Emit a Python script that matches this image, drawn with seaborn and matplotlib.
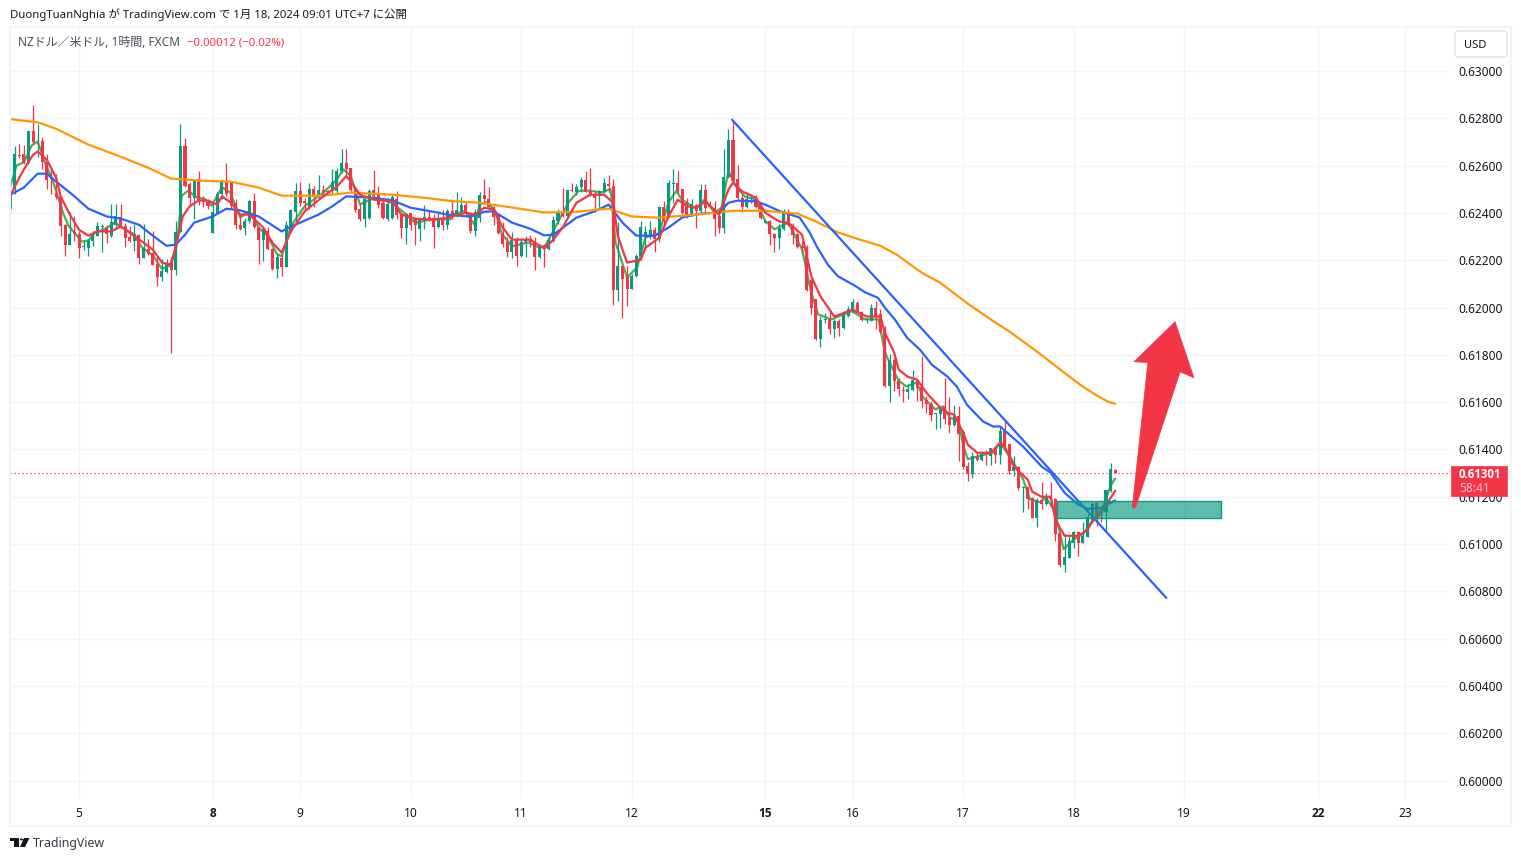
import numpy as np
import pandas as pd
import matplotlib
matplotlib.use("Agg")
import matplotlib.pyplot as plt
from matplotlib.patches import Rectangle, FancyBboxPatch, Polygon, Circle
import seaborn as sns

sns.set_theme(style="white")
FONT = ['Noto Sans', 'Noto Sans CJK JP', 'DejaVu Sans']
BOLD = ['Open Sans', 'DejaVu Sans']
plt.rcParams['font.family'] = FONT

# ---- hourly candles, prices in 1e-5 units ----
opens = [
62417,62501,62645,62649,62611,62747,62699,62704,62614,62551,
62484,62466,62349,62264,62318,62311,62255,62252,62283,62304,
62342,62335,62304,62349,62384,62346,62297,62283,62307,62211,
62247,62231,62184,62130,62149,62191,62160,62318,62683,62522,
62465,62537,62453,62448,62315,62400,62480,62537,62535,62443,
62351,62335,62366,62449,62342,62284,62323,62248,62161,62210,
62172,62327,62404,62491,62450,62422,62502,62468,62497,62488,
62492,62492,62577,62612,62591,62499,62415,62373,62380,62495,
62485,62443,62375,62380,62457,62390,62337,62398,62373,62330,
62373,62384,62380,62342,62373,62350,62407,62388,62405,62433,
62395,62325,62377,62476,62459,62424,62391,62315,62275,62236,
62285,62219,62275,62290,62273,62215,62264,62247,62283,62367,
62402,62388,62497,62487,62508,62539,62494,62480,62473,62487,
62522,62515,62075,62174,62134,62078,62132,62219,62297,62297,
62328,62290,62424,62385,62524,62525,62500,62441,62394,62432,
62408,62497,62436,62422,62387,62336,62553,62707,62542,62465,
62427,62460,62458,62432,62357,62366,62310,62295,62331,62404,
62350,62310,62260,62257,62116,62035,61865,61946,61953,61908,
61943,61912,61964,61985,62020,61982,61946,61943,62000,61974,
61902,61669,61779,61690,61652,61644,61651,61690,61666,61608,
61592,61551,61549,61578,61531,61503,61542,61472,61331,61295,
61370,61355,61387,61373,61404,61377,61476,61422,61310,61324,
61236,61239,61193,61112,61186,61169,61204,61190,61046,60911,
60942,61006,61049,61006,61030,61098,61174,61136,61136,61225,
61315]
highs = [
62513,62685,62692,62687,62747,62857,62776,62720,62649,62593,
62565,62473,62353,62403,62388,62325,62283,62290,62325,62360,
62353,62349,62438,62438,62438,62357,62346,62353,62311,62353,
62290,62325,62219,62205,62205,62212,62367,62776,62716,62530,
62544,62579,62473,62459,62445,62487,62544,62611,62535,62457,
62394,62380,62454,62485,62342,62337,62342,62253,62225,62225,
62366,62415,62525,62530,62464,62525,62514,62560,62520,62499,
62587,62591,62669,62669,62591,62514,62436,62464,62502,62580,
62516,62457,62464,62478,62492,62394,62401,62401,62375,62380,
62432,62412,62394,62408,62412,62416,62459,62487,62466,62445,
62402,62416,62490,62543,62508,62431,62395,62360,62297,62318,
62297,62290,62301,62307,62297,62268,62268,62297,62388,62416,
62505,62497,62526,62522,62550,62579,62589,62494,62498,62546,
62560,62543,62360,62177,62177,62142,62226,62367,62346,62367,
62339,62431,62452,62540,62584,62577,62503,62465,62458,62436,
62521,62524,62451,62451,62408,62672,62756,62789,62603,62479,
62479,62482,62475,62444,62369,62369,62317,62352,62418,62418,
62356,62317,62281,62263,62119,62037,61964,61978,61985,61950,
61950,61985,62006,62035,62028,61985,61957,62013,62028,61993,
61922,61803,61785,61704,61669,61676,61735,61697,61796,61627,
61606,61553,61585,61702,61623,61587,61582,61483,61345,61387,
61387,61387,61398,61408,61408,61500,61521,61422,61373,61331,
61246,61246,61197,61193,61264,61215,61264,61193,61049,61044,
61035,61056,61053,61091,61126,61176,61178,61140,61228,61342,
61317]
lows = [
62395,62480,62631,62607,62607,62692,62635,62586,62501,62480,
62459,62301,62219,62264,62283,62211,62245,62219,62262,62301,
62236,62273,62300,62339,62339,62256,62276,62240,62184,62208,
62222,62180,62092,62114,62146,61808,62139,62318,62508,62431,
62374,62434,62424,62417,62315,62395,62459,62473,62422,62330,
62327,62305,62359,62337,62186,62196,62243,62158,62124,62133,
62170,62323,62359,62429,62412,62418,62426,62464,62468,62478,
62485,62485,62570,62556,62492,62404,62366,62342,62375,62460,
62422,62373,62366,62373,62373,62295,62267,62327,62263,62281,
62330,62366,62253,62337,62327,62332,62374,62381,62402,62388,
62315,62301,62360,62438,62416,62349,62311,62254,62212,62208,
62177,62212,62212,62254,62160,62209,62170,62244,62276,62353,
62381,62385,62487,62476,62487,62487,62473,62405,62424,62484,
62487,62012,62029,61955,62005,62078,62127,62216,62247,62290,
62233,62276,62339,62381,62443,62479,62394,62380,62387,62335,
62401,62401,62422,62303,62314,62317,62549,62528,62458,62404,
62422,62443,62421,62376,62356,62263,62235,62246,62326,62345,
62267,62253,62235,62070,61971,61863,61833,61936,61887,61870,
61879,61910,61961,61982,61981,61943,61933,61942,61908,61894,
61666,61601,61648,61624,61601,61615,61648,61606,61575,61553,
61521,61486,61490,61507,61469,61500,61352,61317,61267,61279,
61352,61352,61335,61335,61342,61338,61408,61298,61288,61228,
61136,61147,61108,61073,61147,61164,61161,61013,60901,60882,
60939,60985,60950,61004,61028,61091,61077,61091,61052,61222,
61301]
closes = [
62487,62649,62642,62611,62747,62699,62702,62614,62539,62544,
62466,62346,62264,62311,62311,62252,62262,62283,62311,62345,
62346,62311,62360,62386,62343,62295,62283,62311,62211,62252,
62228,62181,62130,62156,62184,62160,62318,62683,62515,62465,
62537,62452,62448,62428,62403,62480,62537,62480,62429,62347,
62333,62368,62450,62342,62284,62333,62248,62161,62215,62170,
62347,62411,62491,62440,62443,62502,62468,62499,62490,62492,
62532,62577,62612,62587,62499,62411,62373,62457,62492,62471,
62432,62380,62436,62468,62390,62337,62394,62347,62351,62373,
62384,62373,62342,62377,62347,62409,62381,62412,62433,62395,
62325,62402,62476,62459,62424,62381,62315,62268,62236,62285,
62219,62275,62290,62275,62215,62264,62247,62285,62370,62402,
62388,62497,62491,62508,62539,62489,62480,62462,62491,62526,
62515,62075,62177,62120,62078,62134,62219,62339,62318,62328,
62290,62424,62367,62526,62528,62493,62401,62387,62436,62408,
62497,62422,62427,62376,62336,62553,62707,62535,62462,62427,
62460,62465,62427,62380,62366,62310,62295,62338,62404,62348,
62307,62256,62253,62074,61999,61865,61947,61950,61908,61943,
61912,61971,61992,62023,61982,61946,61950,61996,61964,61898,
61669,61778,61690,61655,61648,61655,61694,61658,61606,61592,
61546,61553,61578,61528,61503,61542,61465,61324,61295,61373,
61356,61380,61380,61404,61376,61476,61415,61310,61326,61236,
61239,61190,61109,61186,61169,61204,61190,61042,60911,60946,
61011,61049,61006,61035,61116,61171,61119,61130,61228,61317,
61301]

# ---- moving averages: bar number and value ----
green_bar = [0,1.4,3,4.7,6,7.6,9.4,11.6,12.7,15.6,17,18.5,20.6,22.8,24.2,26.8,28.6,31.1,33,34.7,36.2,37.3,38.7,40.5,42.3,43.8,46,47.8,
  50,52,54,56,58,59,61,64,68,71,72.4,74,76,79,83,86,88,92,95.6,
  96.6,98.8,101,102,103.6,105.4,106.8,109,112.6,114.8,116.2,118,121.3,123.5,125.7,128.5,130.4,131.5,134,136.2,138,140.9,143,
  144.7,145.8,149,150.9,153,154.5,156,157.8,159.6,161.8,164,166,169,172,174,175.5,178.4,182.8,185.7,188.6,
  190,191,193,194.7,196.9,198.3,200.9,202.7,204,206,207,208,210.6,213.5,215,217.5,220,221.5,223.7,225,227,228.8,231,233,235.3,237.5,239,240]
green_val = [62508,62600,62614,62685,62702,62614,62530,62396,62346,62279,62283,62318,62332,62360,62339,62311,62255,62219,62163,62177,62262,62473,62494,62466,62459,62431,62508,62487,
  62380,62408,62337,62302,62225,62217,62344,62429,62485,62542,62584,62556,62436,62464,62443,62394,62358,62375,62373,
  62395,62409,62346,62438,62445,62409,62311,62259,62275,62254,62259,62325,62445,62494,62494,62487,62501,62275,62127,62170,62297,62311,62445,
  62493,62458,62418,62458,62401,62422,62577,62507,62469,62458,62366,62331,62359,62246,62063,61971,61950,61985,61950,61950,
  61810,61768,61690,61666,61683,61620,61570,61582,61535,61521,61415,61359,61373,61387,61427,61359,61274,61190,61176,61197,61133,60978,61020,61042,61105,61162,61246,61277]

red_bar = [0,2,3,5,6,8,10,11,13,15,17,19,22,24,26,29,31,33,35,36,37.5,39,41,43,45,46,48,50,52,55,57,59,61,64,68,71,73,74,76,79,83,85,88,92,95,
  99,101,103,105,107,109,113,116,118,120,123,126,129,131,132,134,137,138,141,143,145,147,149,151,154,156,157,159,162,164,167,169,172,174,176,179,183,186,189,
  190,192,193,195,197,199,201,203,205,207,208,210,213,215,216,218,221,222,224,226,227,229,232,234,235,237,239,240]
red_val = [62470,62549,62583,62646,62660,62625,62549,62470,62393,62329,62304,62322,62322,62343,62316,62274,62245,62190,62181,62258,62385,62428,62453,62452,62435,62470,62443,62393,62393,62338,62274,62232,62322,62407,62470,62512,62555,62533,62477,62456,62449,62393,62376,62371,62380,
  62401,62393,62422,62414,62338,62287,62287,62249,62287,62338,62443,62477,62477,62443,62301,62190,62202,62253,62295,62385,62456,62428,62422,62449,62393,62498,62528,62491,62464,62401,62364,62359,62308,62132,62047,61962,61991,61962,61962,
  61893,61809,61737,61707,61695,61640,61597,61559,61547,61470,61420,61386,61386,61428,61411,61327,61272,61221,61200,61200,61102,61035,61035,61060,61094,61132,61195,61225]

blue_bar = [0,3,6,8,10,14,17,21,24,28,31,34,36,38,40,44,47,50,54,59,61,67,70,73,76,79,83,87,92,95,100,103,105,109,113,116,118,123,127,130,133,136,140,143,146,150,154,156,158,162,164,167,
  171.5,173.7,175.2,177.6,179.8,183.5,185.7,188.5,190,192.2,194.8,197.6,200.2,203.5,205.6,207.8,211.3,213.5,215,220,224,226,229,232,234,237,239,240]
blue_val = [62477,62507,62566,62566,62533,62470,62418,62385,62376,62350,62304,62261,62266,62308,62359,62385,62418,62411,62385,62322,62342,62393,62428,62470,62467,62464,62453,62422,62405,62393,62384,62405,62407,62359,62333,62305,62308,62380,62407,62435,62359,62304,62304,62338,62381,62397,62402,62443,62452,62449,62435,62409,
  62380,62316,62258,62181,62132,62092,62064,62041,61999,61948,61872,61822,61758,61709,61666,61589,61518,61497,61497,61412,61328,61301,61217,61166,61149,61153,61174,61184]

orange_bar = [0,6,10,17,24,30,35,42,48,54,59,68,74,83,90,96,102,109,116,123,130,135,141,149,157,164,171,175,180,184.6,189,192.6,198,202,208,214,217,223,229.5,233,236,238.5,240]
orange_val = [62797,62783,62756,62689,62638,62591,62545,62536,62532,62507,62473,62473,62486,62477,62464,62450,62443,62423,62402,62405,62418,62385,62380,62393,62409,62409,62397,62364,62316,62287,62261,62223,62147,62105,62016,61936,61899,61814,61716,61665,61628,61601,61593]

# ---- drawings ----
trend_bar = [156.8, 251.1]
trend_val = [62794, 60772]
box_bars = [227.4, 263.0]
box_vals = [61111, 61183]
arrow_bar = [243.7, 247.1, 244.1, 253.0, 257.1, 254.1, 244.4]
arrow_val = [61153, 61767, 61771, 61940, 61703, 61728, 61153]
last_price = 61301

# ---- axis labels ----
day_bars = [15, 44, 63, 87, 111, 135, 164, 183, 207, 231, 255, 284, 303]
day_labels = ['5', '8', '9', '10', '11', '12', '15', '16', '17', '18', '19', '22', '23']
bold_days = ['8', '15', '22']
price_ticks = [0.60, 0.602, 0.604, 0.606, 0.608, 0.61, 0.612, 0.614, 0.616, 0.618, 0.62, 0.622, 0.624, 0.626, 0.628, 0.63]

GREEN, RED = '#089981', '#F23645'
GRID = '#F0F3FA'
W, H = 1521, 861

df = pd.DataFrame({'open': opens, 'high': highs, 'low': lows, 'close': closes}) / 1e5
df['bar'] = np.arange(len(df))
df['col'] = np.where(df.close >= df.open, GREEN, RED)

fig = plt.figure(figsize=(W / 100, H / 100), dpi=100, facecolor='white')
L, R, T, B = 10, 1450, 28, 798
ax = fig.add_axes([L / W, 1 - B / H, (R - L) / W, (B - T) / H])
ax.set_facecolor('white')
ax.set_xlim(0, (R - L) / 4.605)
ax.set_ylim(0.59926, 0.63182)
for s in ax.spines.values():
    s.set_visible(False)

ax.set_xticks(day_bars)
ax.set_xticklabels(day_labels, fontsize=8.6, color='#131722')
for t in ax.get_xticklabels():
    if t.get_text() in bold_days:
        t.set_family(BOLD)
        t.set_fontweight('bold')
ax.set_yticks(price_ticks)
ax.set_yticklabels([f'{v:.5f}' for v in price_ticks], fontsize=8.6, color='#131722')
ax.yaxis.tick_right()
ax.tick_params(axis='both', length=0)
ax.tick_params(axis='y', pad=6.2)
ax.tick_params(axis='x', pad=6.3)
ax.grid(True, color=GRID, lw=1.0)
ax.set_axisbelow(True)

# moving average under the candles
sns.lineplot(x=green_bar, y=np.array(green_val) / 1e5, ax=ax, color='#4CAF50', lw=1.6, sort=False,
             estimator=None, zorder=2.5, solid_joinstyle='round', legend=False)

# candles
ax.vlines(df.bar, df.low, df.high, colors=df.col, lw=0.9, zorder=3)
ax.bar(df.bar, (df.close - df.open).abs().clip(lower=0.00002),
       bottom=df[['open', 'close']].min(axis=1), width=0.66, color=df.col, lw=0, zorder=3)

# moving averages over the candles
lw = 1.6
series = [(blue_bar, blue_val, '#2962FF'), (orange_bar, orange_val, '#FF9800'), (red_bar, red_val, RED)]
for k, (xs, ys, c) in enumerate(series):
    sns.lineplot(x=xs, y=np.array(ys) / 1e5, ax=ax, color=c, lw=lw, sort=False,
                 estimator=None, zorder=4 + k, solid_joinstyle='round', legend=False)

# trend line and box
sns.lineplot(x=trend_bar, y=np.array(trend_val) / 1e5, ax=ax, color='#2962FF', lw=lw,
             estimator=None, zorder=5, legend=False)
ax.add_patch(Rectangle((box_bars[0], box_vals[0] / 1e5), box_bars[1] - box_bars[0],
                       (box_vals[1] - box_vals[0]) / 1e5, fc=(8/255, 153/255, 129/255, 0.65),
                       ec=GREEN, lw=1, zorder=8))
ax.add_patch(Polygon(np.c_[arrow_bar, np.array(arrow_val) / 1e5], closed=True, fc=RED, ec=RED,
                     lw=0.5, zorder=9))
ax.axhline(last_price / 1e5, color=RED, lw=0.9, ls=(0, (1, 2.2)), zorder=3)

# ---- frame, header and overlays in figure pixels ----
def px(x, y):
    return x / W, 1 - y / H

def frect(x0, y0, x1, y1, **kw):
    fig.add_artist(Rectangle(px(x0, y1), (x1 - x0) / W, (y1 - y0) / H, transform=fig.transFigure, **kw))

frect(10, 27, 1511, 826, fc='none', ec=GRID, lw=1.6, zorder=10)
fig.text(*px(10, 15), 'DuongTuanNghia が TradingView.com で 1月 18, 2024 09:01 UTC+7 に公開',
         fontsize=8.2, color='#131722', va='center', family=FONT)
fig.text(*px(18, 43), 'NZドル／米ドル, 1時間, FXCM', fontsize=8.6, color='#4a4e59', va='center', family=FONT)
fig.text(*px(187, 43), '−0.00012 (−0.02%)', fontsize=8.2, color=RED, va='center', family=FONT)

# USD button
fig.add_artist(FancyBboxPatch(px(1458, 54), 46 / W, 20 / H, boxstyle='round,pad=0.002,rounding_size=0.002',
                              transform=fig.transFigure, fc='white', ec='#E0E3EB', lw=1, zorder=10,
                              mutation_aspect=W / H))
fig.text(*px(1475, 46), 'USD', fontsize=8, color='#131722', ha='center', va='center', zorder=11, family=FONT)

# last price tag
frect(1451, 466, 1507, 496, fc=RED, ec=RED, lw=0.5, zorder=12)
fig.text(*px(1459, 475), '0.61301', fontsize=8.3, color='white', fontweight='bold', va='center', zorder=13, family=BOLD)
fig.text(*px(1459, 489), '58:41', fontsize=8.6, color='#FBC3C8', va='center', zorder=13, family=FONT)

# TradingView mark
frect(10, 838, 19, 841, fc='#131722', ec='none', zorder=10)
frect(14, 838, 19, 847, fc='#131722', ec='none', zorder=10)
fig.add_artist(Circle(px(21.5, 839.5), 1.7 / W, transform=fig.transFigure, fc='#131722', ec='none', zorder=10))
fig.add_artist(Polygon([px(24, 838), px(29.5, 838), px(25, 847), px(20, 847)], closed=True,
                       transform=fig.transFigure, fc='#131722', ec='none', zorder=10))
fig.text(*px(33, 844), 'TradingView', fontsize=8.9, color='#363A45', va='center', family=FONT)

fig.savefig('out.png', dpi=100, facecolor='white')
